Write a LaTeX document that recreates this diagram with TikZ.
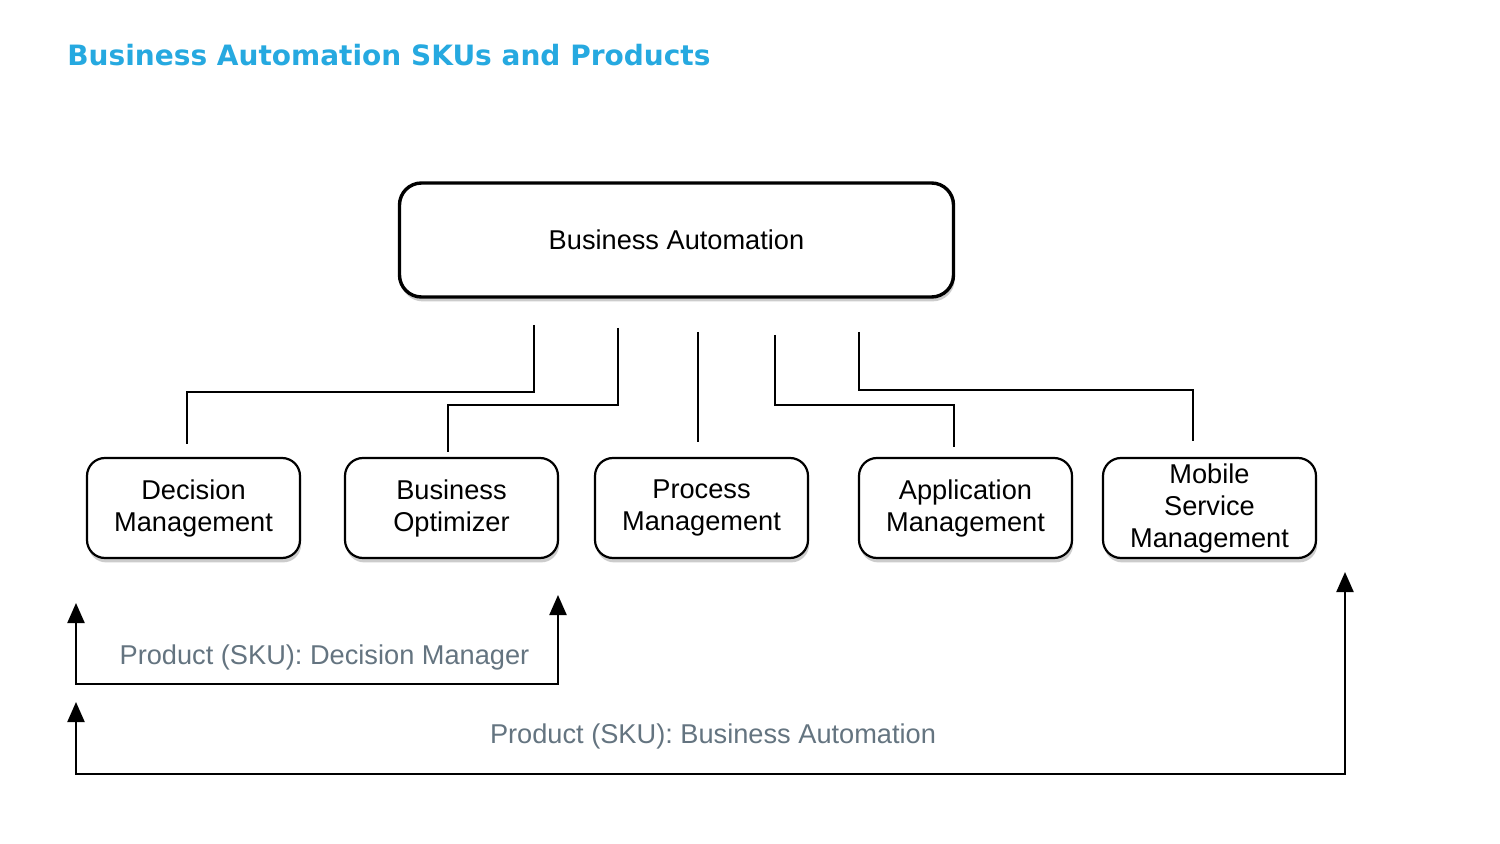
\documentclass[tikz,border=0pt]{standalone}
\usepackage{fontspec}
\setmainfont{Liberation Sans}
\newfontfamily\titlefont{DejaVu Sans}
\usetikzlibrary{calc}
\usetikzlibrary{arrows.meta}
\usetikzlibrary{shadows}
\usetikzlibrary{positioning}
\definecolor{skublue}{RGB}{38,169,224}
\definecolor{skugray}{RGB}{100,116,128}
\tikzset{rootbox/.style={draw=black,line width=1.7pt,rounded corners=11pt,fill=white,
    minimum width=277pt,minimum height=57pt,
    drop shadow={opacity=0.4,shadow xshift=0.6pt,shadow yshift=-2.2pt}},
  partbox/.style={draw=black,line width=1.1pt,rounded corners=9pt,fill=white,align=center,
    minimum width=106.5pt,minimum height=50pt,inner sep=1pt,
    drop shadow={opacity=0.4,shadow xshift=0.6pt,shadow yshift=-2.2pt}},
  link/.style={line width=1.2pt},
  sku/.style={line width=1.1pt,{Triangle[length=10pt,width=8.5pt]}-{Triangle[length=10pt,width=8.5pt]}},
  skulabel/.style={text=skugray,inner sep=0pt}}

\begin{document}
\begin{tikzpicture}[x=0.5pt,y=-0.5pt,font=\fontsize{13.6}{16}\selectfont]
\useasboundingbox[fill=white] (0,0) rectangle (1500,844);

\node[anchor=base west,inner sep=0pt,text=skublue,font=\titlefont\bfseries\fontsize{14}{16}\selectfont]
  (title) at (67,66) {Business Automation SKUs and Products};

\node[rootbox] (ba) at (676.5,240) {Business Automation};

\foreach \n/\x/\txt in {dm/193.5/{Decision\\Management}, bo/451.5/{Business\\Optimizer},
  pm/701.5/{Process\\Management}, am/965.5/{Application\\Management},
  msm/1209.5/{Mobile\\Service\\Management}}
  {
 \node[partbox] (\n) at (\x,508) {\txt};
 }

% links from the top box
\coordinate (dm-a) at (534,325);
\coordinate (dm-b) at (187,444);
\coordinate (bo-a) at (618,328);
\coordinate (bo-b) at (448,452);
\coordinate (pm-a) at (698,332);
\coordinate (pm-b) at (698,442);
\coordinate (am-a) at (775,335);
\coordinate (am-b) at (954,447);
\coordinate (msm-a) at (859,332);
\coordinate (msm-b) at (1193,441);

\draw[link] (dm-a) -- ++(0,67) -| (dm-b);
\draw[link] (bo-a) -- ++(0,77) -| (bo-b);
\draw[link] (pm-a) -- (pm-b);
\draw[link] (am-a) -- ++(0,70) -| (am-b);
\draw[link] (msm-a) -- ++(0,58) -| (msm-b);

% product brackets
\coordinate (dmsku-l) at (76,603);
\coordinate (dmsku-r) at (558,595);
\coordinate (basku-l) at (76,702);
\coordinate (basku-r) at (1345,572);

\draw[sku] (dmsku-l) -- ++(0,81) -| (dmsku-r);
\draw[sku] (basku-l) -- ++(0,72) -| (basku-r);

\node[skulabel] (dmsku) at (324.5,657) {Product (SKU): Decision Manager};
\node[skulabel] (basku) at (713,736) {Product (SKU): Business Automation};

\end{tikzpicture}
\end{document}
